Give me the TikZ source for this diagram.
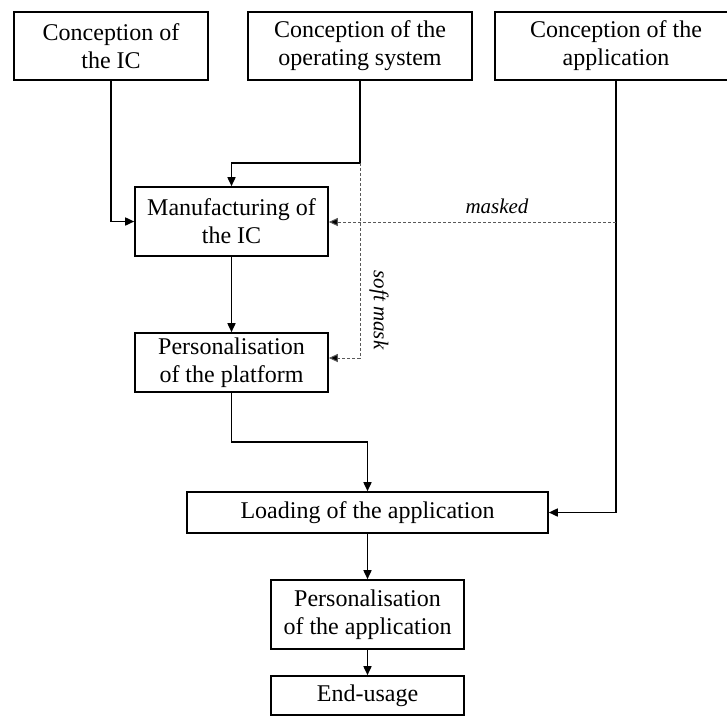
\documentclass[tikz,border=0pt]{standalone}
\usepackage{fontspec}
\setmainfont{Liberation Serif}
\usetikzlibrary{arrows.meta}
\begin{document}
\begin{tikzpicture}[x=1pt,y=-1pt,
  box/.style={draw, line width=1.6pt, inner sep=0pt, align=center, font=\fontsize{24}{28}\selectfont},
  conn/.style={line width=1.6pt, -{Triangle[length=9pt,width=8pt]}},
  dconn/.style={line width=1pt, dash pattern=on 3pt off 2pt, draw=black!65, -{Triangle[length=9pt,width=8pt,fill=black]}},
  lab/.style={font=\fontsize{21}{24}\selectfont\itshape, inner sep=0pt}]
\useasboundingbox (0,0) rectangle (727,716);
\node[box, minimum width=194pt, minimum height=68pt] (c1) at (111,46) {Conception of\\the IC};
\node[box, minimum width=224pt, minimum height=68pt] (c2) at (360,46) {Conception of the\\operating system};
\node[box, minimum width=242pt, minimum height=68pt] (c3) at (616,46) {Conception of the\\application};
\node[box, minimum width=193pt, minimum height=69pt] (man) at (231.5,221.5) {Manufacturing of\\the IC};
\node[box, minimum width=193pt, minimum height=59pt] (pp) at (231.5,362.5) {Personalisation\\of the platform};
\node[box, minimum width=361pt, minimum height=41pt] (load) at (367.5,512.5) {Loading of the application};
\node[box, minimum width=193pt, minimum height=69pt] (pa) at (367.5,614.5) {Personalisation\\of the application};
\node[box, minimum width=193pt, minimum height=39pt] (eu) at (367.5,695.5) {End-usage};
\coordinate (k2) at (360,163);
\coordinate (pk) at (360,358);
\coordinate (mk) at (616,222);
\coordinate (pk2) at (231.5,442);
\draw[conn] (c1.south) |- (man.west);
\draw[conn] (c2.south) -- (k2) -| (man.north);
\draw[dconn] (k2) -- (pk) -- (pk -| pp.east);
\draw[conn] (c3.south) |- (load.east);
\draw[dconn] (mk) -- (mk -| man.east);
\node[lab] (masked) at (497,206) {masked};
\node[lab, rotate=-90] (soft) at (379,310) {soft mask};
\draw[conn] (man) -- (pp);
\draw[conn] (pp.south) -- (pk2) -| (load.north);
\draw[conn] (load) -- (pa);
\draw[conn] (pa) -- (eu);
\end{tikzpicture}
\end{document}
